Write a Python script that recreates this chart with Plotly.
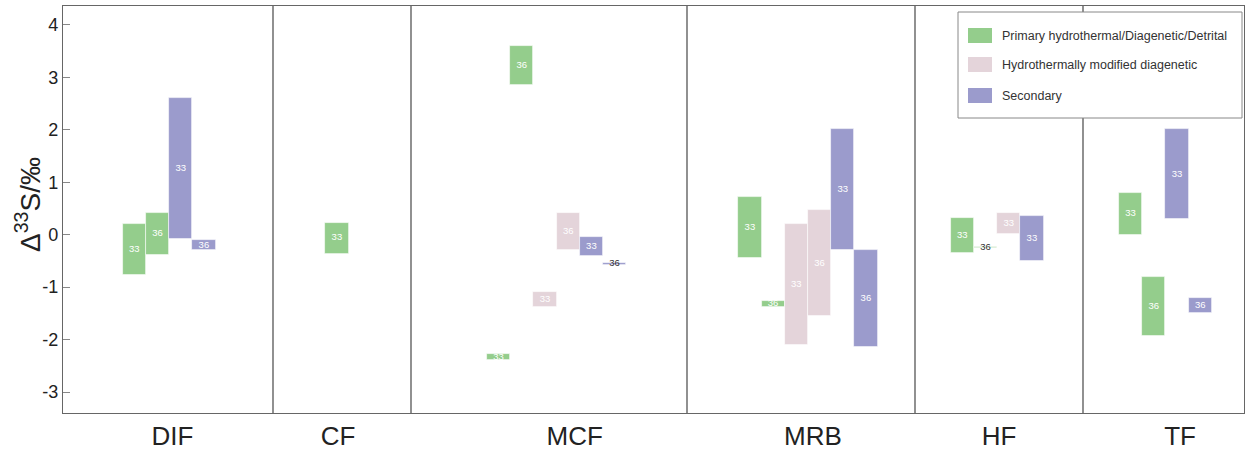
import plotly.graph_objects as go

# ---------------- data ----------------
groups = ["DIF", "CF", "MCF", "MRB", "HF", "TF"]
classes = ["Primary hydrothermal/Diagenetic/Detrital",
           "Hydrothermally modified diagenetic",
           "Secondary"]

bar_group = ["DIF", "DIF", "DIF", "DIF",
             "CF",
             "MCF", "MCF", "MCF", "MCF", "MCF", "MCF",
             "MRB", "MRB", "MRB", "MRB", "MRB", "MRB",
             "HF", "HF", "HF", "HF",
             "TF", "TF", "TF", "TF"]
bar_class = [0, 0, 2, 2,
             0,
             0, 0, 1, 1, 2, 2,
             0, 0, 1, 1, 2, 2,
             0, 0, 1, 2,
             0, 0, 2, 2]
bar_isotope = ["33", "36", "33", "36",
               "33",
               "33", "36", "33", "36", "33", "36",
               "33", "36", "33", "36", "33", "36",
               "33", "36", "33", "33",
               "33", "36", "33", "36"]
bar_low = [-0.77, -0.39, -0.09, -0.30,
           -0.36,
           -2.39, 2.86, -1.38, -0.30, -0.40, -0.58,
           -0.45, -1.37, -2.11, -1.56, -0.30, -2.15,
           -0.34, -0.255, 0.02, -0.50,
           0.00, -1.94, 0.29, -1.49]
bar_high = [0.20, 0.42, 2.60, -0.11,
            0.23,
            -2.28, 3.59, -1.10, 0.41, -0.04, -0.54,
            0.71, -1.27, 0.20, 0.47, 2.01, -0.30,
            0.31, -0.235, 0.42, 0.35,
            0.79, -0.81, 2.01, -1.20]
yticks = [-3, -2, -1, 0, 1, 2, 3, 4]

# ---------------- layout constants ----------------
colors = ["#94cd8c", "#e4d4da", "#9b9bcc"]
W = 23.2                                  # bar slot width (x units)
group_start = {"DIF": 59.7, "CF": 262.3, "MCF": 424.0,
               "MRB": 675.3, "HF": 887.7, "TF": 1056.0}
group_label_x = [109.5, 275.0, 511.7, 750.0, 936.0, 1117.0]
separators = [210, 348, 624, 852, 1020]
XMAX = 1181
YMIN, YMAX = -3.40, 4.36
ML, MR, MT, MB = 63, 6, 6, 37
PW, PH = 1250 - ML - MR, 450 - MT - MB
FONT = "Liberation Sans, Arial"

# positions of bars within groups
counter = {g: 0 for g in groups}
bar_x = []
for g in bar_group:
    bar_x.append(group_start[g] + (counter[g] + 0.5) * W)
    counter[g] += 1

fig = go.Figure()
for ci, cname in enumerate(classes):
    idx = [i for i, c in enumerate(bar_class) if c == ci]
    fig.add_trace(go.Bar(
        x=[bar_x[i] for i in idx],
        base=[bar_low[i] for i in idx],
        y=[bar_high[i] - bar_low[i] for i in idx],
        width=W,
        marker=dict(color=colors[ci], line=dict(color="rgba(255,255,255,0.7)", width=0.8)),
        name=cname, showlegend=False, hoverinfo="skip",
    ))

# bar labels
txt_col = []
for i in range(len(bar_low)):
    thin = (bar_high[i] - bar_low[i]) < 0.08
    txt_col.append("#333333" if thin else "#ffffff")
fig.add_trace(go.Scatter(
    x=bar_x, y=[(a + b) / 2 for a, b in zip(bar_low, bar_high)],
    text=bar_isotope, mode="text",
    textfont=dict(family=FONT, size=9.5, color=txt_col),
    showlegend=False, hoverinfo="skip"))

shapes = []
for sx in separators:
    shapes.append(dict(type="line", xref="x", yref="paper", x0=sx, x1=sx, y0=0, y1=1,
                       line=dict(color="#555555", width=1.3), layer="above"))

# legend (drawn in pixel space)
def px2paper_x(px):
    return (px - ML) / PW

def px2paper_y(py):
    return (450 - MB - py) / PH

shapes.append(dict(type="rect", xref="paper", yref="paper",
                   x0=px2paper_x(958), x1=px2paper_x(1242),
                   y0=px2paper_y(118), y1=px2paper_y(12),
                   fillcolor="white", line=dict(color="#888888", width=1), layer="above"))
annotations = []
leg_y = [35.5, 64.5, 95.5]
for ci, cname in enumerate(classes):
    shapes.append(dict(type="rect", xref="paper", yref="paper",
                       x0=px2paper_x(968), x1=px2paper_x(992),
                       y0=px2paper_y(leg_y[ci] + 7.5), y1=px2paper_y(leg_y[ci] - 7.5),
                       fillcolor=colors[ci], line=dict(width=0), layer="above"))
    annotations.append(dict(xref="paper", yref="paper", x=px2paper_x(1000), y=px2paper_y(leg_y[ci]),
                            text=cname, showarrow=False, xanchor="left", yanchor="middle",
                            font=dict(family=FONT, size=12.5, color="#333333")))

# y-axis title
annotations.append(dict(xref="paper", yref="paper", x=px2paper_x(28), y=px2paper_y(205),
                        text="Δ<sup>33</sup>S/‰", textangle=-90, showarrow=False,
                        xanchor="center", yanchor="middle",
                        font=dict(family=FONT, size=28, color="#222222")))

fig.update_layout(
    width=1250, height=450,
    margin=dict(l=ML, r=MR, t=MT, b=MB, pad=0, autoexpand=False),
    paper_bgcolor="white", plot_bgcolor="white",
    barmode="overlay", bargap=0,
    font=dict(family=FONT, color="#222222"),
    shapes=shapes, annotations=annotations,
    xaxis=dict(range=[0, XMAX], tickvals=group_label_x, ticktext=groups,
               ticks="", showgrid=False, zeroline=False, automargin=False,
               showline=True, linecolor="#666666", linewidth=1.3, mirror=True,
               tickfont=dict(size=26, color="#222222"), fixedrange=True),
    yaxis=dict(range=[YMIN, YMAX], tickvals=yticks, ticktext=[str(v) for v in yticks],
               ticks="inside", ticklen=7, tickcolor="#888888", tickwidth=1,
               showgrid=False, zeroline=False, automargin=False,
               showline=True, linecolor="#666666", linewidth=1.3, mirror=True,
               tickfont=dict(size=18, color="#222222"),
               fixedrange=True),
)

fig.write_html("out.html")
